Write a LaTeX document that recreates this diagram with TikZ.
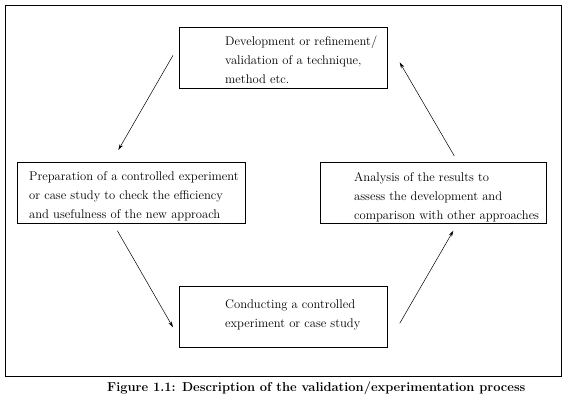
\documentclass[tikz,border=0pt]{standalone}
\usetikzlibrary{arrows.meta}
\begin{document}
\begin{tikzpicture}[x=1pt,y=-1pt,
  frame/.style={draw,line width=0.7pt},
  procbox/.style={draw,line width=0.7pt},
  boxtext/.style={anchor=base west,inner sep=0pt,align=left,font=\fontsize{12.6}{19}\selectfont},
  flow/.style={line width=0.5pt,-{Stealth[length=6pt,width=3.5pt]}}]
\useasboundingbox (0,0) rectangle (565,407);
\draw[frame] (5,5) rectangle (561,376);
% boxes
\node[procbox,minimum width=208pt,minimum height=61pt,anchor=north west,inner sep=0pt] (top) at (179,27) {};
\node[procbox,minimum width=228pt,minimum height=61pt,anchor=north west,inner sep=0pt] (left) at (17,162) {};
\node[procbox,minimum width=226pt,minimum height=61pt,anchor=north west,inner sep=0pt] (right) at (320,162) {};
\node[procbox,minimum width=208pt,minimum height=61pt,anchor=north west,inner sep=0pt] (bottom) at (179,286) {};
% texts (anchor at baseline of last line)
\node[boxtext] (toptext) at (225,83) {Development or refinement/\\validation of a technique,\\method etc.};
\node[boxtext] (lefttext) at (29,218) {Preparation of a controlled experiment\\or case study to check the efficiency\\and usefulness of the new approach};
\node[boxtext] (righttext) at (354,219) {Analysis of the results to\\assess the development and\\comparison with other approaches};
\node[boxtext] (bottomtext) at (225,327) {Conducting a controlled\\experiment or case study};
\node[anchor=base west,inner sep=0pt,font=\fontsize{12.9}{15}\selectfont\bfseries] (caption) at (107,391) {Figure 1.1: Description of the validation/experimentation process};
% connectors
\coordinate (a1s) at ([xshift=-6pt,yshift=2.5pt]top.west);
\coordinate (a1e) at ([xshift=-13pt,yshift=12pt]left.north);
\coordinate (a2s) at ([xshift=21pt,yshift=6pt]right.north);
\coordinate (a2e) at ([xshift=12pt,yshift=-4.5pt]top.east);
\coordinate (a3s) at ([xshift=-14pt,yshift=-7pt]left.south);
\coordinate (a3e) at ([xshift=-6pt,yshift=-10.5pt]bottom.west);
\coordinate (a4s) at ([xshift=12pt,yshift=-6.5pt]bottom.east);
\coordinate (a4e) at ([xshift=20pt,yshift=-7pt]right.south);
\draw[flow] (a1s) -- (a1e);
\draw[flow] (a2s) -- (a2e);
\draw[flow] (a3s) -- (a3e);
\draw[flow] (a4s) -- (a4e);
\end{tikzpicture}
\end{document}
